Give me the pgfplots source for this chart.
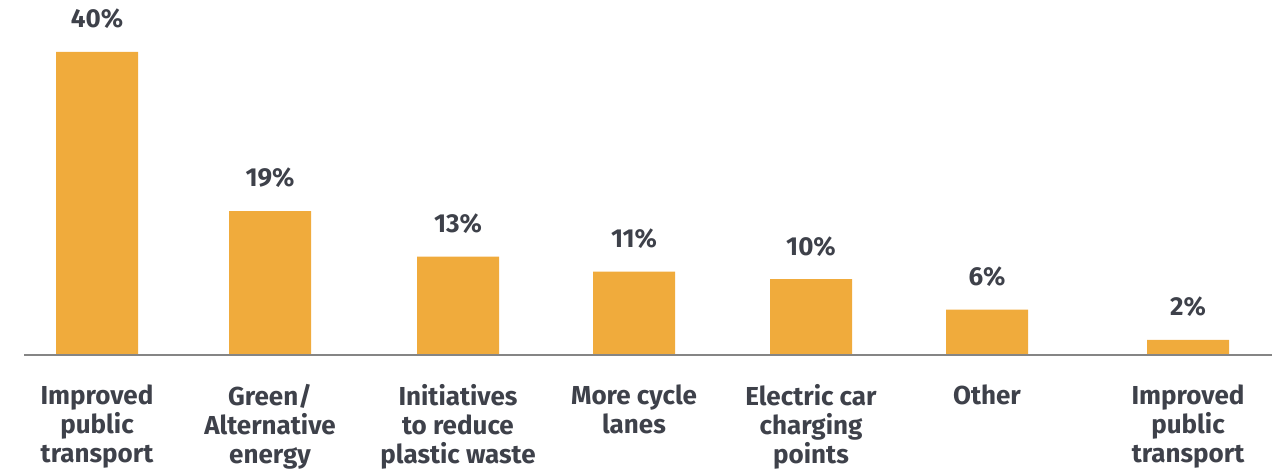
\documentclass[border=0pt]{standalone}
\usepackage{pgfplots}
\pgfplotsset{compat=1.18}
\usepackage{fontspec}
\setmainfont{Fira Sans}
\definecolor{barc}{HTML}{F0AB3C}
\definecolor{txt}{HTML}{3E414A}
\definecolor{basel}{HTML}{858585}
\begin{document}
\begin{tikzpicture}
\useasboundingbox (0,-58pt) rectangle (644pt,177.5pt);
\begin{axis}[
  at={(0,0)}, anchor=south west,
  scale only axis,
  width=644pt, height=177.5pt,
  xmin=0, xmax=1288, ymin=0, ymax=46.86,
  axis x line*=bottom, axis y line=none,
  x axis line style={draw=none},
  major tick length=0pt,
  ybar, bar width=41pt,
  bar shift=0pt,
  clip=false,
  xtick={97,270,458,634,811,987,1188},
  xticklabels={Improved\\public\\transport, Green/\\Alternative\\energy, Initiatives\\to reduce\\plastic waste, More cycle\\lanes, Electric car\\charging\\points, Other, Improved\\public\\transport},
  xticklabel style={align=center, anchor=north, inner sep=0pt, yshift=-14.5pt, text=txt, font={\fontsize{13}{14.5}\selectfont\bfseries}},
  ytick=\empty,
  /pgf/number format/assume math mode=true,
  nodes near coords={\pgfmathprintnumber[assume math mode=true]{\pgfplotspointmeta}\%},
  every node near coord/.append style={font={\fontsize{13}{14.5}\selectfont\bfseries}, text=txt, yshift=8pt},
]
\addplot[fill=barc, draw=none] coordinates {(97,40) (270,19) (458,13) (634,11) (811,10) (987,6) (1188,2)};
\draw[basel, line width=0.75pt] (axis cs:24,0) -- (axis cs:1272,0);
\end{axis}
\end{tikzpicture}
\end{document}
